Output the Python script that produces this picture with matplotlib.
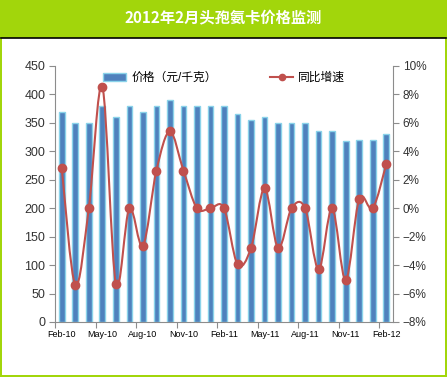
import matplotlib
matplotlib.use("Agg")
import matplotlib.pyplot as plt
from matplotlib.patches import Rectangle, PathPatch
from matplotlib.path import Path
from matplotlib.lines import Line2D

plt.rcParams['font.family'] = ['Liberation Sans', 'Noto Sans CJK SC']
plt.rcParams['axes.unicode_minus'] = True

# data
months = ['Feb-10', 'Mar-10', 'Apr-10', 'May-10', 'Jun-10', 'Jul-10', 'Aug-10',
          'Sep-10', 'Oct-10', 'Nov-10', 'Dec-10', 'Jan-11', 'Feb-11', 'Mar-11',
          'Apr-11', 'May-11', 'Jun-11', 'Jul-11', 'Aug-11', 'Sep-11', 'Oct-11',
          'Nov-11', 'Dec-11', 'Jan-12', 'Feb-12']
price = [370, 350, 350, 380, 360, 380, 370, 380, 390, 380, 380, 380, 380,
         365, 355, 360, 350, 350, 350, 335, 335, 318, 320, 320, 330]
yoy = [2.8, -5.4, 0.0, 8.55, -5.3, 0.0, -2.65, 2.65, 5.4, 2.65, 0.0, 0.0, 0.0,
       -3.95, -2.8, 1.4, -2.8, 0.0, 0.0, -4.3, 0.0, -5.05, 0.65, 0.0, 3.1]

title = '2012年2月头孢氨卡价格监测'
bar_label = '价格（元/千克）'
line_label = '同比增速'

GREEN = '#A2D60B'
BLUE = '#4F81BD'
RED = '#C0504D'
GRAY = '#8C8C8C'

W, H = 447, 377
fig = plt.figure(figsize=(W / 100, H / 100), dpi=100, facecolor=GREEN)

# white panel and black separator under the title bar
fig.patches.append(Rectangle((2 / W, 2 / H), 443 / W, 337 / H, transform=fig.transFigure,
                             facecolor='white', edgecolor='none', zorder=-10))
fig.lines.append(Line2D([1 / W, 446 / W], [339.5 / H, 339.5 / H], transform=fig.transFigure,
                        color='black', linewidth=1.2, zorder=-5))
fig.text(0.5, 1 - 18 / H, title, ha='center', va='center', color='white',
         fontsize=11, fontweight='bold', family=['Noto Sans CJK SC'])

ax = fig.add_axes([55 / W, 55 / H, 338 / W, 256 / H])
ax.patch.set_alpha(0)
x = list(range(len(months)))
bars = ax.bar(x, price, width=0.42, color=BLUE, edgecolor='#8AD3EA', linewidth=1.0,
              label=bar_label, zorder=2)
ax.set_xlim(-0.5, len(months) - 0.5)
ax.set_ylim(0, 450)
ax.set_yticks(range(0, 451, 50))

# Excel-style category axis: tick marks at boundaries, labels at centres
ax.set_xticks([i - 0.5 for i in range(0, len(months), 3)])
ax.set_xticklabels([])
ax.set_xticks(x[::3], minor=True)
ax.set_xticklabels(months[::3], minor=True, fontsize=6.5)
ax.tick_params(axis='x', which='minor', length=0, pad=6)
ax.tick_params(axis='x', which='major', length=4, color=GRAY)
ax.tick_params(axis='y', labelsize=9, length=4, color=GRAY, pad=3, labelcolor='#333333')

for side in ['top', 'right']:
    ax.spines[side].set_visible(False)
for side in ['left', 'bottom']:
    ax.spines[side].set_color(GRAY)

ax2 = ax.twinx()
ax2.set_ylim(-8, 10)
ax2.set_yticks(range(-8, 11, 2))
ax2.set_yticklabels([f'{v}%'.replace('-', '\u2212') for v in range(-8, 11, 2)])
ax2.tick_params(axis='y', labelsize=8.5, length=4, color=GRAY, pad=3, labelcolor='#333333')
for side in ['top', 'left', 'bottom']:
    ax2.spines[side].set_visible(False)
ax2.spines['right'].set_color(GRAY)

# smoothed line (bezier segments through the data points)
verts = [(x[0], yoy[0])]
codes = [Path.MOVETO]
n = len(x)
for i in range(n - 1):
    p0 = (x[max(i - 1, 0)], yoy[max(i - 1, 0)])
    p1 = (x[i], yoy[i])
    p2 = (x[i + 1], yoy[i + 1])
    p3 = (x[min(i + 2, n - 1)], yoy[min(i + 2, n - 1)])
    c1 = (p1[0] + (p2[0] - p0[0]) / 6, p1[1] + (p2[1] - p0[1]) / 6)
    c2 = (p2[0] - (p3[0] - p1[0]) / 6, p2[1] - (p3[1] - p1[1]) / 6)
    verts += [c1, c2, p2]
    codes += [Path.CURVE4] * 3
ax2.add_patch(PathPatch(Path(verts, codes), facecolor='none', edgecolor=RED,
                        linewidth=1.5, zorder=3))
ax2.plot(x, yoy, linestyle='none', marker='o', markersize=6, color=RED, zorder=4)

handles = [bars, Line2D([], [], color=RED, linewidth=1.5, marker='o', markersize=4.5)]
ax2.legend(handles, [bar_label, line_label], loc='upper center', bbox_to_anchor=(0.5, 1.0),
           ncol=2, frameon=False, fontsize=8.5, columnspacing=4.5, handlelength=2.0,
           borderaxespad=0.1, handletextpad=0.4)

fig.savefig('out.png', dpi=100, facecolor=GREEN)
